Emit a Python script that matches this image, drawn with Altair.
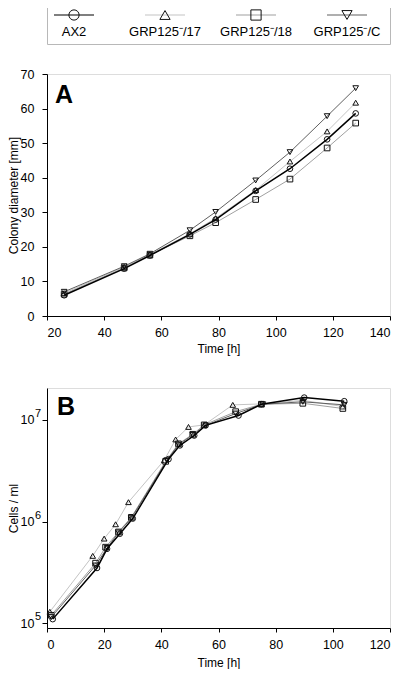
import altair as alt
import pandas as pd

# ---------------- data ----------------
series_names = ["AX2", "GRP125-/17", "GRP125-/18", "GRP125-/C"]
legend_labels = ["AX2", "GRP125⁻/17", "GRP125⁻/18", "GRP125⁻/C"]
line_colors = ["#000000", "#c4c4c4", "#a0a0a0", "#606060"]
line_widths = [1.5, 1.0, 1.0, 1.0]
marker_shapes = ["circle", "triangle-up", "square", "triangle-down"]
draw_order = [1, 2, 3, 0]  # AX2 on top

# Panel A: colony diameter [mm] vs time [h]
time_a = [26, 47, 56, 70, 79, 93, 105, 118, 128]
diam_ax2 = [6.0, 13.7, 17.5, 23.6, 27.9, 36.2, 42.6, 51.1, 58.6]
diam_17 = [6.6, 14.2, 17.8, 23.8, 28.3, 36.4, 44.7, 53.4, 61.7]
diam_18 = [6.3, 13.9, 17.6, 23.2, 27.0, 33.7, 39.6, 48.6, 55.8]
diam_c = [7.0, 14.4, 18.0, 24.8, 30.1, 39.2, 47.4, 57.8, 65.9]

# Panel B: cells / ml vs time [h]
time_b_ax2 = [2, 17.5, 21, 25.5, 30, 42.5, 46.5, 51.5, 55.5, 67, 75, 90, 104]
cells_ax2 = [1.1e5, 3.5e5, 5.4e5, 7.6e5, 1.07e6, 4.1e6, 5.6e6, 7.0e6, 8.8e6, 1.1e7, 1.42e7, 1.65e7, 1.52e7]
time_b_17 = [1, 16, 20, 24, 28.5, 41, 45, 49.5, 55, 65, 75, 89.5, 103.5]
cells_17 = [1.3e5, 4.6e5, 6.8e5, 9.4e5, 1.55e6, 4.0e6, 6.4e6, 8.5e6, 8.9e6, 1.4e7, 1.43e7, 1.55e7, 1.35e7]
time_b_18 = [1.5, 17, 20.5, 25, 29.5, 41.5, 46, 51, 55, 66, 75, 89.5, 103.5]
cells_18 = [1.2e5, 3.9e5, 5.6e5, 7.9e5, 1.1e6, 3.9e6, 5.8e6, 7.2e6, 8.9e6, 1.2e7, 1.42e7, 1.45e7, 1.29e7]
time_b_c = [1.5, 17, 21, 25, 29.5, 42, 46, 51, 55.5, 66, 75.5, 89.5, 104]
cells_c = [1.15e5, 3.7e5, 5.5e5, 7.8e5, 1.08e6, 4.0e6, 5.7e6, 7.1e6, 8.8e6, 1.15e7, 1.42e7, 1.5e7, 1.4e7]

ticks_a_x = [20, 40, 60, 80, 100, 120, 140]
ticks_a_y = [0, 10, 20, 30, 40, 50, 60, 70]
ticks_b_x = [0, 20, 40, 60, 80, 100, 120]
ticks_b_y = [1e5, 1e6, 1e7]
ticks_b_exp = ["5", "6", "7"]

FONT = "Liberation Sans"
W = 343

# ---------------- helpers ----------------
def series_layers(times, values, xscale, yscale, xaxis, yaxis, size):
    layers = []
    for i in draw_order:
        df = pd.DataFrame({"t": times[i], "v": values[i], "series": series_names[i]})
        x = alt.X("t:Q", scale=xscale, axis=xaxis)
        y = alt.Y("v:Q", scale=yscale, axis=yaxis)
        layers.append(
            alt.Chart(df).mark_line(color=line_colors[i], strokeWidth=line_widths[i]).encode(x=x, y=y)
        )
        layers.append(
            alt.Chart(df).mark_point(shape=marker_shapes[i], filled=False, color="#111111",
                                     strokeWidth=1, size=size, opacity=1).encode(x=x, y=y)
        )
    return layers

axis_style = dict(domainColor="black", tickColor="black", labelColor="black", titleColor="black",
                  labelFont=FONT, titleFont=FONT, labelFontSize=12.5, titleFontSize=12,
                  titleFontWeight="normal", grid=False)

# ---------------- legend ----------------
leg_df = pd.DataFrame({"series": series_names, "label": legend_labels})
leg_x = alt.X("series:N", scale=alt.Scale(type="point", domain=series_names, range=[27, 300], padding=0),
              axis=None)
leg_color = alt.Color("series:N", scale=alt.Scale(domain=series_names, range=line_colors), legend=None)
leg_shape = alt.Shape("series:N", scale=alt.Scale(domain=series_names, range=marker_shapes), legend=None)

leg_lines = alt.Chart(leg_df).mark_rule(xOffset=-20, x2Offset=20, strokeWidth=1.2).encode(
    x=leg_x, x2="series:N", y=alt.value(8), color=leg_color)
leg_pts = alt.Chart(leg_df).mark_point(filled=False, size=105, color="#111111", strokeWidth=1, opacity=1).encode(
    x=leg_x, y=alt.value(8), shape=leg_shape)
leg_txt = alt.Chart(leg_df).mark_text(font=FONT, fontSize=13, baseline="middle", color="black").encode(
    x=leg_x, y=alt.value(25), text="label:N")
legend = alt.layer(leg_lines, leg_pts, leg_txt).properties(
    width=W, height=37, view=alt.ViewBackground(stroke="#b8b8b8", strokeWidth=1))

# ---------------- panel A ----------------
xs_a = alt.Scale(domain=[20, 140], nice=False)
ys_a = alt.Scale(domain=[0, 70], nice=False)
xa_axis = alt.Axis(title="Time [h]", values=ticks_a_x, tickSize=4, labelPadding=6, titlePadding=5, **axis_style)
ya_axis = alt.Axis(title="Colony diameter [mm]", values=ticks_a_y, tickSize=5, labelPadding=8,
                   titlePadding=0, **axis_style)
layers_a = series_layers([time_a] * 4, [diam_ax2, diam_17, diam_18, diam_c], xs_a, ys_a, xa_axis, ya_axis, 32)
label_a = alt.Chart(pd.DataFrame({"p": ["A"]})).mark_text(
    font=FONT, fontSize=25, fontWeight="bold", align="left", baseline="top", color="black").encode(
    x=alt.value(8), y=alt.value(9), text="p:N")
panel_a = alt.layer(*layers_a, label_a).properties(width=W, height=242)

# ---------------- spacer ----------------
spacer = alt.Chart(pd.DataFrame({"s": [0]})).mark_point(opacity=0, size=1).encode(
    x=alt.value(10), y=alt.value(6)).properties(
    width=W, height=12, view=alt.ViewBackground(stroke="transparent"))

# ---------------- panel B ----------------
xs_b = alt.Scale(domain=[0, 120], nice=False)
ys_b = alt.Scale(type="log", domain=[9e4, 2.05e7], nice=False)
xb_axis = alt.Axis(title="Time [h]", values=ticks_b_x, tickSize=4, labelPadding=6, titlePadding=7, **axis_style)
yb_axis = alt.Axis(title="Cells / ml", values=ticks_b_y, tickSize=5, labelPadding=8, titlePadding=0,
                   labelExpr="'10'", **axis_style)
layers_b = series_layers([time_b_ax2, time_b_17, time_b_18, time_b_c],
                         [cells_ax2, cells_17, cells_18, cells_c], xs_b, ys_b, xb_axis, yb_axis, 32)
exp_df = pd.DataFrame({"v": ticks_b_y, "e": ticks_b_exp})
exp_txt = alt.Chart(exp_df).mark_text(font=FONT, fontSize=11, align="left", baseline="middle",
                                      dy=-6, color="black").encode(
    x=alt.value(-12), y=alt.Y("v:Q", scale=ys_b, axis=yb_axis), text="e:N")
label_b = alt.Chart(pd.DataFrame({"p": ["B"]})).mark_text(
    font=FONT, fontSize=25, fontWeight="bold", align="left", baseline="top", color="black").encode(
    x=alt.value(10), y=alt.value(7), text="p:N")
panel_b = alt.layer(*layers_b, exp_txt, label_b).properties(width=W, height=240)

chart = alt.vconcat(legend, panel_a, spacer, panel_b, spacing=30, bounds="flush",
                    padding={"left": -2, "top": -2, "right": 0, "bottom": 0}
).configure_view(stroke="black", strokeWidth=1).configure(background="white")

chart.save("out.html", embed_options={"renderer": "svg", "actions": False})
